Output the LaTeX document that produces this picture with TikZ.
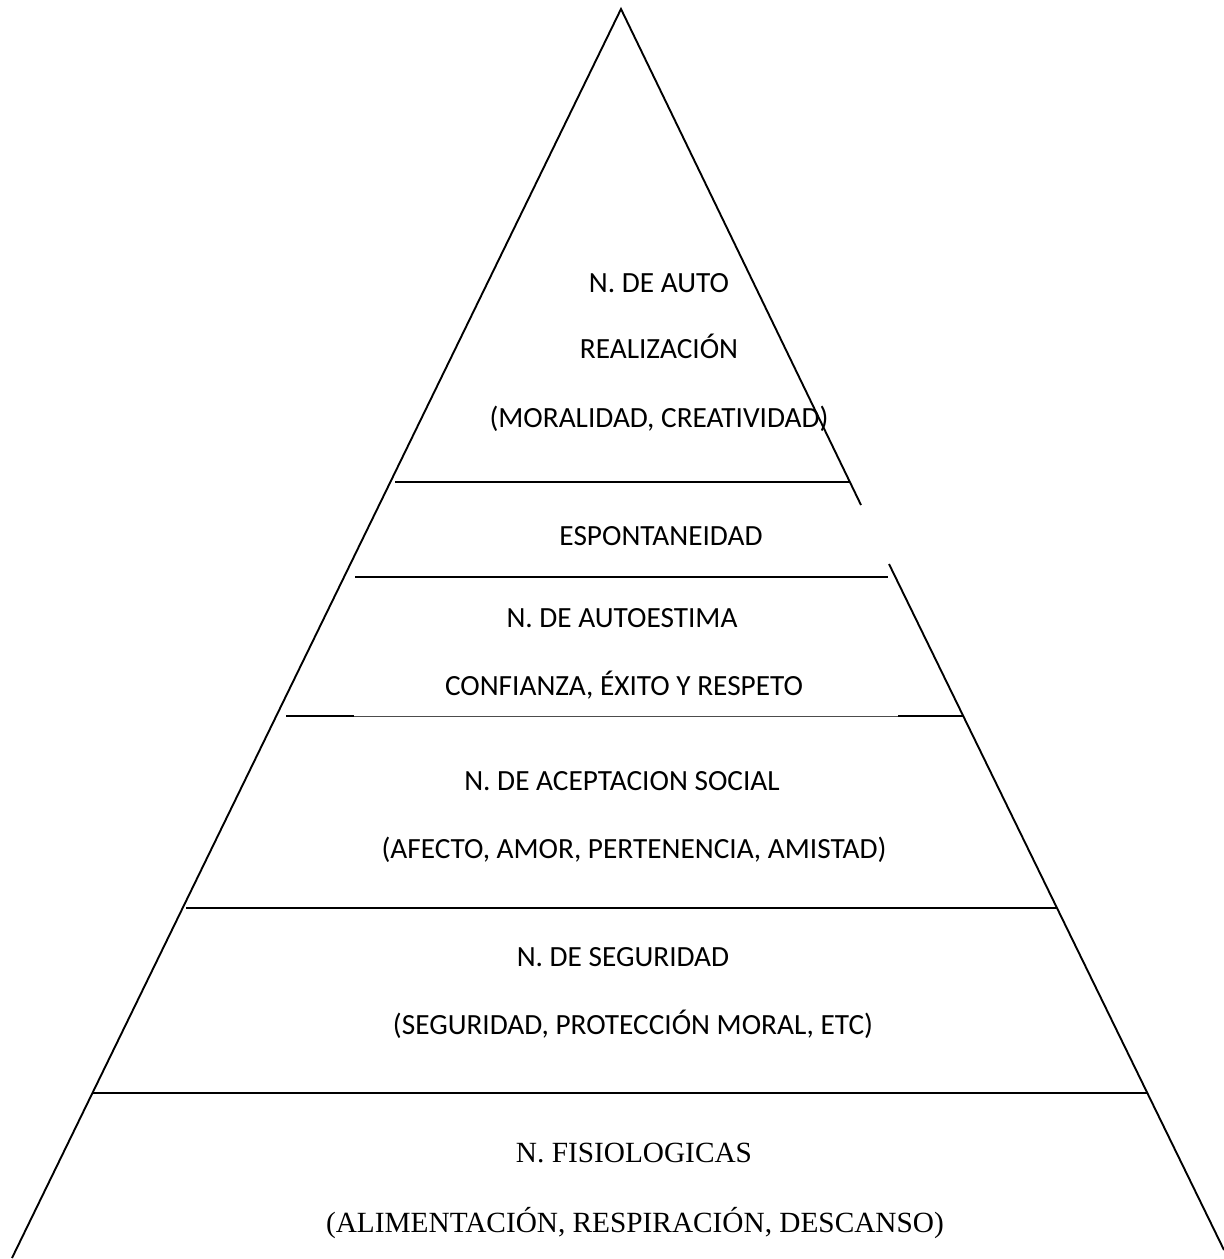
\documentclass[tikz,border=0pt]{standalone}
\usepackage{fontspec}
\setmainfont{Carlito}
\newfontfamily\tnr{Liberation Serif}
\begin{document}
\begin{tikzpicture}[x=1pt,y=-1pt,
  edge/.style={line width=1.9pt,black},
  level/.style={line width=1.9pt,black},
  faint/.style={line width=0.9pt,black!70},
  lbl/.style={anchor=base,inner sep=0pt,font=\fontsize{29.3}{35}\selectfont},
  lblserif/.style={anchor=base,inner sep=0pt,font=\tnr\fontsize{29.3}{35}\selectfont}]
\useasboundingbox (0,0) rectangle (1224,1259);
% pyramid sides
\coordinate (apex) at (621,9);
\coordinate (bl) at (12,1258);
\coordinate (br) at (1224,1250);
\coordinate (r1) at (861,505);
\coordinate (r2) at (889,564);
\draw[edge] (bl) -- (apex) -- (r1);
\draw[edge] (r2) -- (br);
% level lines
\coordinate (a1) at (395,482); \coordinate (b1) at (850,482);
\coordinate (a2) at (355,577); \coordinate (b2) at (888,577);
\coordinate (a3) at (286,716); \coordinate (m3) at (354,716);
\coordinate (n3) at (898,716); \coordinate (b3) at (964,716);
\coordinate (a4) at (186,908); \coordinate (b4) at (1057,908);
\coordinate (a5) at (93,1093); \coordinate (b5) at (1147,1093);
\draw[level] (a1) -- (b1);
\draw[level] (a2) -- (b2);
\draw[level] (a3) -- (m3);
\draw[faint] (m3) -- (n3);
\draw[level] (n3) -- (b3);
\draw[level] (a4) -- (b4);
\draw[level] (a5) -- (b5);
% texts
\node[lbl] (t1) at (659,292) {N. DE AUTO};
\node[lbl] (t2) at (659,358) {REALIZACIÓN};
\node[lbl] (t3) at (659,427) {(MORALIDAD, CREATIVIDAD)};
\node[lbl] (t4) at (661,545) {ESPONTANEIDAD};
\node[lbl] (t5) at (622,627) {N. DE AUTOESTIMA};
\node[lbl] (t6) at (624,695) {CONFIANZA, ÉXITO Y RESPETO};
\node[lbl] (t7) at (622,790) {N. DE ACEPTACION SOCIAL};
\node[lbl] (t8) at (634,858) {(AFECTO, AMOR, PERTENENCIA, AMISTAD)};
\node[lbl] (t9) at (623,966) {N. DE SEGURIDAD};
\node[lbl] (t10) at (633,1034) {(SEGURIDAD, PROTECCIÓN MORAL, ETC)};
\node[lblserif] (t11) at (634,1162) {N. FISIOLOGICAS};
\node[lblserif] (t12) at (635,1232) {(ALIMENTACIÓN, RESPIRACIÓN, DESCANSO)};
\end{tikzpicture}
\end{document}
